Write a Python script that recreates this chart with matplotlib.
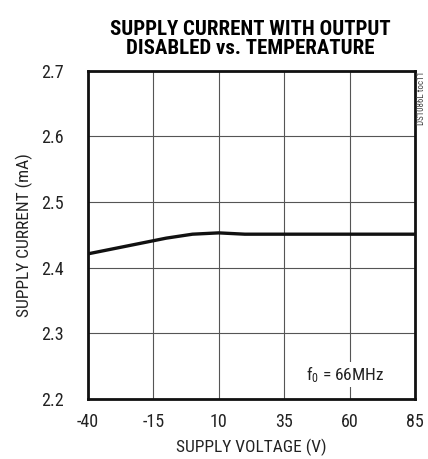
import matplotlib
matplotlib.use("Agg")
import matplotlib.pyplot as plt
from matplotlib import font_manager

names = {f.name for f in font_manager.fontManager.ttflist}
narrow = "Roboto Condensed" if "Roboto Condensed" in names else "DejaVu Sans"

plt.rcParams['font.family'] = [narrow, 'DejaVu Sans']
plt.rcParams['mathtext.fontset'] = 'custom'
plt.rcParams['mathtext.rm'] = narrow
plt.rcParams['mathtext.it'] = narrow

# data
temperature = [-40, -30, -20, -15, -10, -5, 0, 5, 10, 15, 20, 30, 50, 85]
current = [2.421, 2.429, 2.437, 2.441, 2.445, 2.448, 2.451, 2.452, 2.453, 2.452, 2.451, 2.451, 2.451, 2.451]
xticks = [-40, -15, 10, 35, 60, 85]
yticks = [2.2, 2.3, 2.4, 2.5, 2.6, 2.7]

fig = plt.figure(figsize=(4.28, 4.59), dpi=100)
ax = fig.add_axes([0.205, 0.1307, 0.7647, 0.7153])
ax.set_xlim(-40, 85)
ax.set_ylim(2.2, 2.7)
ax.set_xticks(xticks)
ax.set_yticks(yticks)
ax.set_xticklabels([str(t) for t in xticks])
ax.set_yticklabels([f"{t:.1f}" for t in yticks])
ax.grid(True, color='#555555', linewidth=0.8)
ax.tick_params(length=0, labelsize=13, colors='#222222')
ax.tick_params(axis='x', pad=10)
ax.tick_params(axis='y', pad=17)
for s in ax.spines.values():
    s.set_linewidth(2.0)
    s.set_color('#111111')

ax.plot(temperature, current, color='#111111', linewidth=2.4, solid_capstyle='butt')

ax.set_xlabel("SUPPLY VOLTAGE (V)", fontsize=12.5, labelpad=6, color='#222222')
ax.set_ylabel("SUPPLY CURRENT (mA)", fontsize=12.5, labelpad=6, color='#222222')
fig.suptitle("SUPPLY CURRENT WITH OUTPUT\nDISABLED vs. TEMPERATURE", fontsize=15, fontweight='bold',
             x=0.585, y=0.957, linespacing=1.05)

ax.text(58.3, 2.237, r"f$_\mathrm{0}$ = 66MHz", fontsize=12.5, ha='center', va='center',
        bbox=dict(facecolor='white', edgecolor='none', pad=1.5), color='#222222')
fig.text(0.985, 0.845, "DS1086L toc11", rotation=90, fontsize=6.5, color='#444444',
         ha='center', va='top')

fig.savefig("out.png", dpi=100)
